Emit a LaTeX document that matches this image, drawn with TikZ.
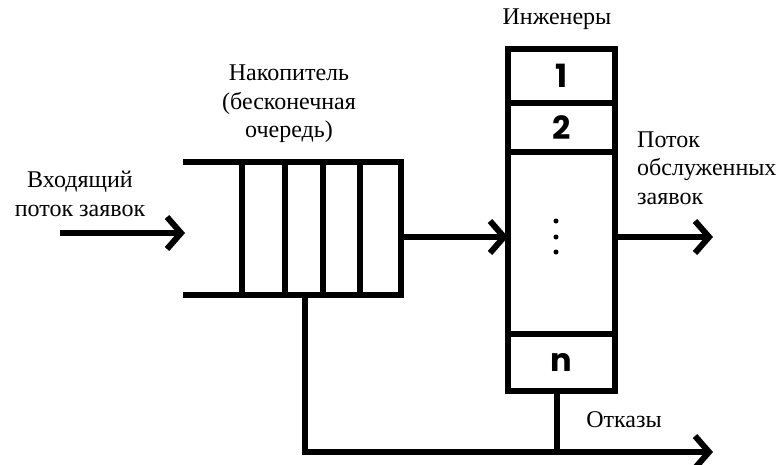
\documentclass[tikz,border=0pt]{standalone}
\usepackage{fontspec}
\setmainfont{Liberation Serif}
\newfontfamily\numfont{Poppins}
\usetikzlibrary{arrows.meta}
\tikzset{
  bar/.style={line width=6pt},
  cell/.style={draw, line width=6pt, minimum width=107pt, inner sep=0pt, outer sep=0pt, anchor=north west, font=\numfont\bfseries\fontsize{32}{32}\selectfont},
  lbl/.style={font=\fontsize{24}{28.5}\selectfont, inner sep=0pt},
  arr/.style={-{Straight Barb[length=14pt,width=32pt]}, line width=6pt},
  dot/.style={fill, circle, inner sep=0pt, minimum size=5pt}
}
\begin{document}
\begin{tikzpicture}[x=1pt,y=-1pt]
\useasboundingbox (0,0) rectangle (781,464);
% servers
\node[cell, minimum height=54pt] (c1) at (508,49) {1};
\node[cell, minimum height=49pt] (c2) at (508,103) {2};
\node[cell, minimum height=182pt] (cd) at (508,152) {};
\node[cell, minimum height=57pt] (cn) at (508,334) {n};
\node[dot] (d1) at (556,221) {};
\node[dot] (d2) at (556,237) {};
\node[dot] (d3) at (556,252) {};
% queue
\node[minimum width=218pt, minimum height=133pt, inner sep=0pt, outer sep=0pt, anchor=north west] (q) at (183,162) {};
\draw[bar] (q.north west) -- (q.north east) -- (q.south east) -- (q.south west);
\foreach \x in {59,102,140,177}
  \draw[bar] ([xshift=\x pt]q.north west) -- ([xshift=\x pt]q.south west);
% coordinates
\coordinate (in) at (60,233);
\coordinate (mid) at (0,237);
\coordinate (out) at (713,237);
\coordinate (rej) at (713,452);
% connectors
\draw[arr] (in) -- ([xshift=2pt]in -| q.west);
\draw[arr] (q.east |- mid) -- (cd.west |- mid);
\draw[arr] (cd.east |- mid) -- (out);
\draw[arr] ([xshift=122pt]q.south west) |- (rej);
\draw[bar] ([xshift=-5pt]cn.south) -- ([xshift=-5pt]cn.south |- rej);
% labels
\node[lbl] (tEng) at (557,19) {Инженеры};
\node[lbl, align=center] (tAcc) at (289,104) {Накопитель\\(бесконечная\\очередь)};
\node[lbl, align=center] (tIn) at (80,194) {Входящий\\поток заявок};
\node[lbl, align=left, anchor=west] (tOut) at (637,168) {Поток\\обслуженных\\заявок};
\node[lbl] (tRej) at (624,420) {Отказы};
\end{tikzpicture}
\end{document}
